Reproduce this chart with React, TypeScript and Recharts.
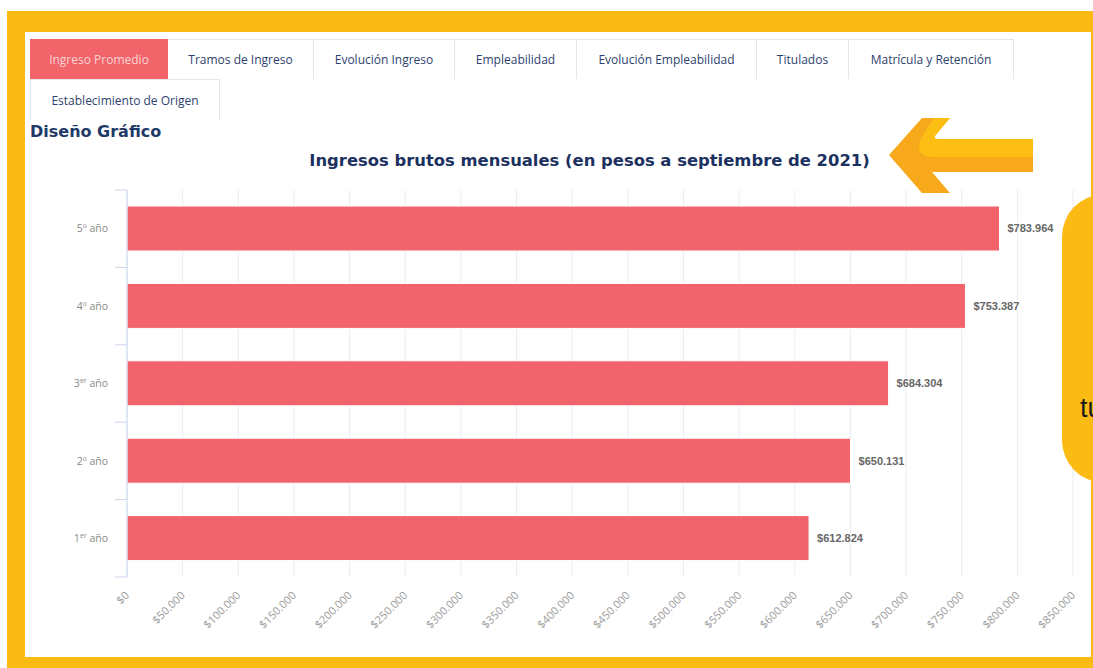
import React from "react";
import { BarChart, Bar, XAxis, YAxis, CartesianGrid, LabelList } from "recharts";

// ---- data ----
const categories = ["5º año", "4º año", "3er año", "2º año", "1er año"];
const ingresos = [783964, 753387, 684304, 650131, 612824];
const xTicks = [
  0, 50000, 100000, 150000, 200000, 250000, 300000, 350000, 400000,
  450000, 500000, 550000, 600000, 650000, 700000, 750000, 800000, 850000,
];
const tabsRow1 = [
  "Ingreso Promedio",
  "Tramos de Ingreso",
  "Evolución Ingreso",
  "Empleabilidad",
  "Evolución Empleabilidad",
  "Titulados",
  "Matrícula y Retención",
];
const tabsRow2 = ["Establecimiento de Origen"];
const chartTitle = "Ingresos brutos mensuales (en pesos a septiembre de 2021)";
const sectionTitle = "Diseño Gráfico";
const calloutText = "tu";

// ---- layout ----
const W = 1093;
const H = 668;
const M_TOP = 190;
const M_RIGHT = 20;
const Y_AXIS_W = 127;
const X_AXIS_H = 60;
const M_BOTTOM = 31;
const PLOT_BOTTOM = H - M_BOTTOM - X_AXIS_H;
const PLOT_H = PLOT_BOTTOM - M_TOP;
const BAND = PLOT_H / categories.length;
const TAB_W1 = [138, 146, 141, 122, 180, 92, 165];
const TAB_W2 = [190];

const data = categories.map((name, i) => ({ name, value: ingresos[i] }));

const fmt = (v: number) =>
  "$" + String(v).replace(/\B(?=(\d{3})+(?!\d))/g, ".");

const YTick = (props: any) => {
  const { x, y, payload, index } = props;
  const label: string = payload.value;
  const m = label.match(/^(\d+)(er)(.*)$/);
  const axisX = Y_AXIS_W;
  return (
    <g>
      <line
        x1={axisX - 12}
        x2={axisX}
        y1={y - BAND / 2}
        y2={y - BAND / 2}
        stroke="#ccd6eb"
        strokeWidth={1}
      />
      {index === categories.length - 1 && (
        <line
          x1={axisX - 12}
          x2={axisX}
          y1={y + BAND / 2}
          y2={y + BAND / 2}
          stroke="#ccd6eb"
          strokeWidth={1}
        />
      )}
      <text
        x={axisX - 19}
        y={y}
        dy="0.35em"
        textAnchor="end"
        fill="#8a8a8a"
        fontSize={10.5}
        fontFamily="'Open Sans', sans-serif"
      >
        {m ? (
          <>
            {m[1]}
            <tspan fontSize={7} dy={-4}>
              {m[2]}
            </tspan>
            <tspan dy={4}>{m[3]}</tspan>
          </>
        ) : (
          label
        )}
      </text>
    </g>
  );
};

const XTick = (props: any) => {
  const { x, payload } = props;
  const px = x + 3;
  const py = PLOT_BOTTOM + 19;
  return (
    <text
      x={px}
      y={py}
      textAnchor="end"
      transform={`rotate(-45, ${px}, ${py})`}
      fill="#9a9a9a"
      fontSize={11}
      fontFamily="'Open Sans', sans-serif"
    >
      {fmt(payload.value)}
    </text>
  );
};

const tabBase: React.CSSProperties = {
  boxSizing: "border-box",
  height: "100%",
  display: "flex",
  alignItems: "center",
  justifyContent: "center",
  fontFamily: "'Open Sans', sans-serif",
  fontSize: 12,
  color: "#2d3f6e",
  background: "#fff",
  borderTop: "1px solid #e3e7ec",
  borderRight: "1px solid #e3e7ec",
  whiteSpace: "nowrap",
};

export default function App() {
  return (
    <div
      style={{
        position: "absolute",
        left: 0,
        top: 0,
        width: W,
        height: H,
        background: "#fff",
        overflow: "hidden",
      }}
    >
      {/* yellow frame */}
      <div
        style={{
          position: "absolute",
          left: 7,
          top: 11,
          width: W - 7,
          height: H - 11,
          background: "#FCBA14",
        }}
      />
      {/* white panel */}
      <div
        style={{
          position: "absolute",
          left: 25,
          top: 32,
          width: 1066,
          height: 625,
          background: "#fff",
        }}
      />
      {/* tabs row 1 */}
      <div
        style={{
          position: "absolute",
          left: 30,
          top: 39,
          height: 40,
          display: "flex",
        }}
      >
        {tabsRow1.map((t, i) => (
          <div
            key={t}
            style={{
              ...tabBase,
              width: TAB_W1[i],
              ...(i === 0
                ? {
                    background: "#F0646A",
                    color: "#fcd3d5",
                    borderTop: "none",
                    borderRight: "none",
                  }
                : {}),
            }}
          >
            {t}
          </div>
        ))}
      </div>
      {/* tabs row 2 */}
      <div
        style={{
          position: "absolute",
          left: 30,
          top: 79,
          height: 41,
          display: "flex",
        }}
      >
        {tabsRow2.map((t, i) => (
          <div
            key={t}
            style={{
              ...tabBase,
              width: TAB_W2[i],
              borderLeft: "1px solid #e3e7ec",
            }}
          >
            {t}
          </div>
        ))}
      </div>

      {/* chart */}
      <div style={{ position: "absolute", left: 0, top: 0 }}>
        <BarChart
          width={W}
          height={H}
          data={data}
          layout="vertical"
          margin={{ top: M_TOP, right: M_RIGHT, bottom: M_BOTTOM, left: 0 }}
        >
          <CartesianGrid horizontal={false} stroke="#e8edf2" />
          <XAxis
            type="number"
            domain={[0, 850000]}
            ticks={xTicks}
            interval={0}
            axisLine={false}
            tickLine={false}
            height={X_AXIS_H}
            tick={<XTick />}
          />
          <YAxis
            type="category"
            dataKey="name"
            width={Y_AXIS_W}
            axisLine={{ stroke: "#ccd6eb" }}
            tickLine={false}
            interval={0}
            tick={<YTick />}
          />
          <Bar
            dataKey="value"
            fill="#F1646B"
            stroke="#ffffff"
            strokeWidth={1}
            barSize={45}
            isAnimationActive={false}
          >
            <LabelList
              dataKey="value"
              position="right"
              offset={8}
              formatter={(v: any) => fmt(Number(v))}
              fill="#666"
              fontSize={11}
              fontWeight="bold"
              fontFamily="'Liberation Sans', Arial, sans-serif"
              stroke="#fff"
              strokeWidth={2}
              style={{ paintOrder: "stroke" }}
            />
          </Bar>
        </BarChart>
      </div>

      {/* overlay decorations */}
      <svg
        width={W}
        height={H}
        style={{ position: "absolute", left: 0, top: 0, pointerEvents: "none" }}
      >
        <text
          x={30}
          y={137}
          fontFamily="'DejaVu Sans', Verdana, sans-serif"
          fontWeight="bold"
          fontSize={16}
          fill="#1f3a68"
        >
          {sectionTitle}
        </text>
        <text
          x={589.5}
          y={166}
          textAnchor="middle"
          fontFamily="'DejaVu Sans', Verdana, sans-serif"
          fontWeight="bold"
          fontSize={16.4}
          fill="#1c3160"
        >
          {chartTitle}
        </text>
        {/* arrow */}
        <path
          d="M889,155 L922,118 L950,118 L932,139 L1033,139 L1033,172 L932,172 L950,193 L922,193 Z"
          fill="#F7A81B"
        />
        <path
          d="M934,118 L950,118 L935,136 Q934,139 939,139 L1033,139 L1033,157 L934,157 Q918,157 919,146 Q920,139 926,130 Z"
          fill="#FDBE14"
        />
        {/* callout */}
        <rect x={1062} y={195} width={80} height={287} rx={42} fill="#FCBA14" />
        <text
          x={1080}
          y={417}
          fontFamily="'Liberation Sans', Arial, sans-serif"
          fontSize={27}
          fill="#1a1a1a"
        >
          {calloutText}
        </text>
      </svg>
    </div>
  );
}
